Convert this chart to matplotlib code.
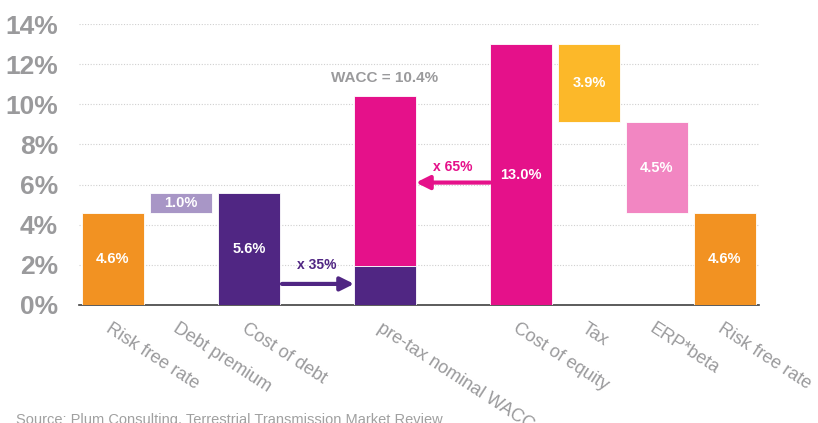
import matplotlib.pyplot as plt
from matplotlib.ticker import FuncFormatter

# data (percent)
slots = [0, 1, 2, 4, 6, 7, 8, 9]
labels = ['Risk free rate', 'Debt premium', 'Cost of debt', 'pre-tax nominal WACC',
          'Cost of equity', 'Tax', 'ERP*beta', 'Risk free rate']
bottoms = [0.0, 4.6, 0.0, 1.96, 0.0, 9.1, 4.6, 0.0]
heights = [4.6, 1.0, 5.6, 8.44, 13.0, 3.9, 4.5, 4.6]
colors = ['#F29222', '#A896C6', '#502683', '#E5118A', '#E5118A', '#FCB829', '#F286C2', '#F29222']
value_text = ['4.6%', '1.0%', '5.6%', '', '13.0%', '3.9%', '4.5%', '4.6%']

# debt share of the WACC bar
debt_part = 1.96
wacc = 10.4
debt_weight = 35
equity_weight = 65

FONT = ['Liberation Sans', 'DejaVu Sans']
GREY = '#9a9a9c'
W = 0.91

fig = plt.figure(figsize=(8.18, 4.23), dpi=100)
ax = fig.add_axes([79 / 818, (423 - 305) / 423, 680 / 818, (305 - 24) / 423])

ax.bar(slots, heights, bottom=bottoms, width=W, color=colors,
       edgecolor='#ffffff', linewidth=0.6, zorder=3)
# debt part of pre-tax WACC
ax.bar([4], [debt_part], width=W, color='#502683', edgecolor='#ffffff', linewidth=0.6, zorder=3)

for s, b, h, t in zip(slots, bottoms, heights, value_text):
    if t:
        ax.text(s, b + h / 2, t, ha='center', va='center', color='white',
                fontsize=10.5, fontweight='bold', family=FONT, zorder=4)

ax.text(4, 11.3, 'WACC = %.1f%%' % wacc, ha='center', va='center', color=GREY,
        fontsize=11, fontweight='bold', family=FONT)

# weighting arrows
ax.annotate('', xy=(4 - W / 2, 1.05), xytext=(2 + W / 2 + 0.03, 1.05),
            arrowprops=dict(arrowstyle='-|>', color='#502683', lw=3, mutation_scale=20,
                            shrinkA=0, shrinkB=0), zorder=5)
ax.text(3, 2.0, 'x %d%%' % debt_weight, ha='center', va='center', color='#502683',
        fontsize=10, fontweight='bold', family=FONT)
ax.annotate('', xy=(4 + W / 2, 6.1), xytext=(6 - W / 2, 6.1),
            arrowprops=dict(arrowstyle='-|>', color='#E5118A', lw=3, mutation_scale=20,
                            shrinkA=0, shrinkB=0), zorder=5)
ax.text(5, 6.9, 'x %d%%' % equity_weight, ha='center', va='center', color='#E5118A',
        fontsize=10, fontweight='bold', family=FONT)

ax.set_xlim(-0.5, 9.5)
ax.set_ylim(0, 14)
ax.set_yticks(range(0, 15, 2))
ax.yaxis.set_major_formatter(FuncFormatter(lambda v, p: '%d%%' % v))
for lab in ax.get_yticklabels():
    lab.set_family(FONT)
    lab.set_fontweight('bold')
    lab.set_fontsize(19)
    lab.set_color(GREY)
ax.tick_params(axis='y', length=0, pad=15)
ax.set_xticks([])
ax.grid(axis='y', color='#d0d0d0', linestyle=(0, (1, 1.5)), linewidth=0.8, zorder=0)
for side in ['top', 'right', 'left']:
    ax.spines[side].set_visible(False)
ax.spines['bottom'].set_color('#404040')
ax.spines['bottom'].set_linewidth(1.2)

for s, lab in zip(slots, labels):
    ax.text(s - 0.02, -0.75, lab, rotation=-33, rotation_mode='anchor', ha='left', va='top',
            color=GREY, fontsize=13, family=FONT)

fig.text(16 / 818, 1 - 413 / 423, 'Source: Plum Consulting, Terrestrial Transmission Market Review',
         ha='left', va='top', color='#a0a0a0', fontsize=10.5, family=FONT)

fig.savefig('out.png', dpi=100)
